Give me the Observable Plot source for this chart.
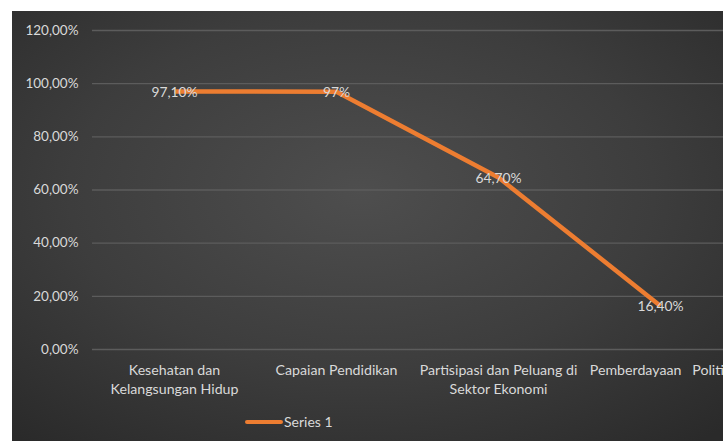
<!DOCTYPE html>
<html>
<head>
<meta charset="utf-8">
<script src="https://cdn.jsdelivr.net/npm/d3@7"></script>
<script src="https://cdn.jsdelivr.net/npm/@observablehq/plot@0.6"></script>
<style>
  html, body { margin: 0; padding: 0; background: #fff; overflow: hidden; width: 723px; height: 441px; }
  #bg { position: absolute; left: 12px; top: 11px; width: 760px; height: 430px;
        background: radial-gradient(ellipse 70% 75% at 46% 42%, #4e4e4e 0%, #3d3d3d 55%, #2a2a2a 100%); }
  #chart { position: absolute; left: 0; top: 0; width: 750px; }
  #chart svg { max-width: none !important; }
  #legend { position: absolute; left: 245px; top: 413px; font-family: Lato, "Open Sans", sans-serif;
            font-size: 14px; color: #d9d9d9; display: flex; align-items: center; }
  #legend .sw { width: 38px; height: 4px; background: #ED7D31; border-radius: 2px; margin-right: 1px; }
</style>
</head>
<body>
<div id="bg"></div>
<div id="chart"></div>
<div id="legend"><span class="sw"></span><span>Series 1</span></div>
<script>
const categories = [
  "Kesehatan dan\nKelangsungan Hidup",
  "Capaian Pendidikan",
  "Partisipasi dan Peluang di\nSektor Ekonomi",
  "Pemberdayaan\u00a0\u00a0\u00a0Politik"
];
const values = [97.1, 97, 64.7, 16.4];
const valueLabels = ["97,10%", "97%", "64,70%", "16,40%"];
const yTicks = [0, 20, 40, 60, 80, 100, 120];

const data = categories.map((c, i) => ({cat: c, v: values[i], label: valueLabels[i]}));
const fmt = d => d.toFixed(2).replace(".", ",") + "%";

const chart = Plot.plot({
  width: 750,
  height: 441,
  marginLeft: 92,
  marginRight: 8,
  marginTop: 30,
  marginBottom: 92,
  style: {background: "transparent", fontFamily: "Lato, 'Open Sans', sans-serif", fontSize: "13.5px", color: "#d9d9d9", overflow: "visible", maxWidth: "none"},
  x: {type: "point", domain: categories, padding: 0.5, label: null},
  y: {domain: [0, 120], ticks: yTicks, label: null},
  marks: [
    Plot.gridY(yTicks, {stroke: "#5c5c5c", strokeOpacity: 1, strokeWidth: 1.3}),
    Plot.axisY(yTicks, {tickSize: 0, tickPadding: 14, tickFormat: fmt, fill: "#d9d9d9", fontSize: 13.5, label: null}),
    Plot.axisX({tickSize: 0, tickPadding: 11, fill: "#d9d9d9", fontSize: 14.2, label: null, lineHeight: 1.4}),
    Plot.line(data, {x: "cat", y: "v", stroke: "#ED7D31", strokeWidth: 4.5, strokeLinejoin: "round", strokeLinecap: "butt",
      style: {filter: "drop-shadow(1px 2px 1.5px rgba(0,0,0,0.6))"}}),
    Plot.text(data, {x: "cat", y: "v", text: "label", fill: "#d9d9d9", fontSize: 13.8, dy: 1})
  ]
});
document.getElementById("chart").appendChild(chart);
</script>
</body>
</html>
